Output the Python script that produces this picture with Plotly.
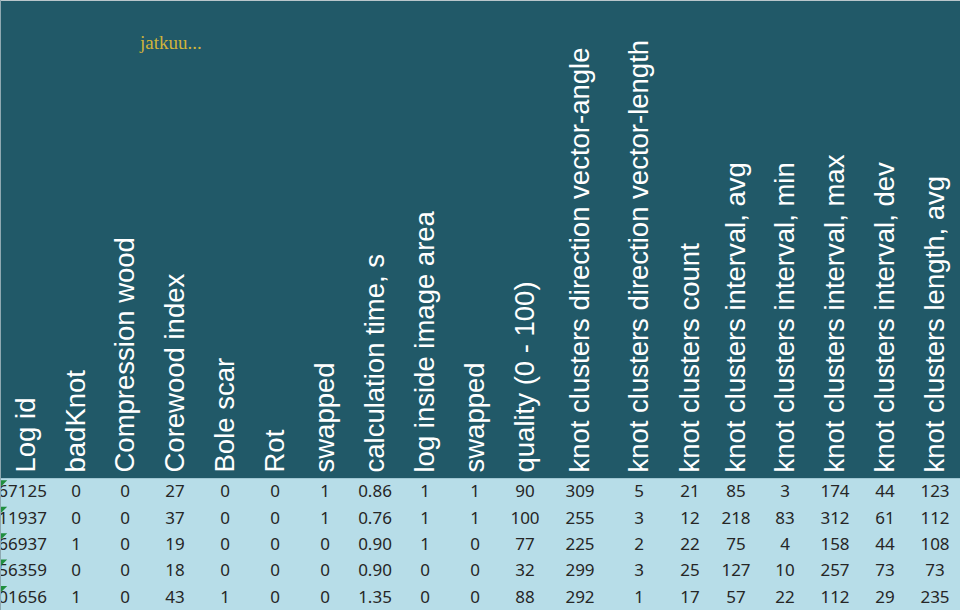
import plotly.graph_objects as go

# ---- data ----
headers = [
    "Log id", "badKnot", "Compression wood", "Corewood index", "Bole scar", "Rot",
    "swapped", "calculation time, s", "log inside image area", "swapped",
    "quality (0 - 100)", "knot clusters direction vector-angle",
    "knot clusters direction vector-length", "knot clusters count",
    "knot clusters interval, avg", "knot clusters interval, min",
    "knot clusters interval, max", "knot clusters interval, dev",
    "knot clusters length, avg",
]
log_id = ["567125", "111937", "566937", "256359", "401656"]
bad_knot = [0, 0, 1, 0, 1]
compression_wood = [0, 0, 0, 0, 0]
corewood_index = [27, 37, 19, 18, 43]
bole_scar = [0, 0, 0, 0, 1]
rot = [0, 0, 0, 0, 0]
swapped_a = [1, 1, 0, 0, 0]
calc_time = [0.86, 0.76, 0.90, 0.90, 1.35]
log_inside = [1, 1, 1, 0, 0]
swapped_b = [1, 1, 0, 0, 0]
quality = [90, 100, 77, 32, 88]
dir_angle = [309, 255, 225, 299, 292]
dir_length = [5, 3, 2, 3, 1]
kc_count = [21, 12, 22, 25, 17]
int_avg = [85, 218, 75, 127, 57]
int_min = [3, 83, 4, 10, 22]
int_max = [174, 312, 158, 257, 112]
int_dev = [44, 61, 44, 73, 29]
len_avg = [123, 112, 108, 73, 235]

columns = [bad_knot, compression_wood, corewood_index, bole_scar, rot, swapped_a,
           [f"{v:.2f}" for v in calc_time], log_inside, swapped_b, quality,
           dir_angle, dir_length, kc_count, int_avg, int_min, int_max, int_dev, len_avg]

# ---- layout / style ----
col_widths = [52, 48, 50, 50, 50, 50, 50, 50, 50, 50, 50, 60, 58, 44, 48, 50, 50, 50, 50]
edges = [0]
for w in col_widths:
    edges.append(edges[-1] + w)
centers = [(edges[i] + edges[i + 1]) / 2 for i in range(len(col_widths))]

HEADER_BG = "#215968"
BODY_BG = "#b7dde8"
TEXT_DARK = "#262626"
n_rows = len(log_id)
rows = list(range(n_rows))

fig = go.Figure()

# body values (columns 2..)
xs, ys, ts = [], [], []
for ci, col in enumerate(columns):
    for r, v in enumerate(col):
        xs.append(centers[ci + 1])
        ys.append(r)
        ts.append(str(v))
fig.add_trace(go.Scatter(
    x=xs, y=ys, text=ts, mode="text", textposition="middle center",
    textfont=dict(family="Noto Sans", size=17, color=TEXT_DARK),
    hoverinfo="skip", showlegend=False, cliponaxis=True,
))

# Log id column, right aligned and clipped at the left edge
fig.add_trace(go.Scatter(
    x=[edges[1] - 5] * n_rows, y=rows, text=log_id, mode="text",
    textposition="middle left",
    textfont=dict(family="Noto Sans", size=17, color=TEXT_DARK),
    hoverinfo="skip", showlegend=False, cliponaxis=True,
))

# green cell indicators in the Log id cells
fig.add_trace(go.Scatter(
    x=[edges[0] + 3] * n_rows, y=[r - 0.4 for r in rows], mode="markers",
    marker=dict(symbol="triangle-nw", size=7, color="#1f8f3f", line=dict(width=0)),
    hoverinfo="skip", showlegend=False, cliponaxis=False,
))

body_h = 131
fig.update_layout(
    width=960, height=610,
    margin=dict(l=0, r=0, t=0, b=0),
    paper_bgcolor=HEADER_BG,
    plot_bgcolor=BODY_BG,
    xaxis=dict(
        range=[edges[0], edges[-1]], side="top",
        tickmode="array", tickvals=centers, ticktext=headers,
        tickangle=-90, ticks="", showgrid=False, zeroline=False,
        tickfont=dict(family="Liberation Sans", size=27.5, color="white"),
        showline=True, linecolor="#9fc6d2", linewidth=1,
        ticklabelstandoff=0,
    ),
    yaxis=dict(
        domain=[0, body_h / 610], range=[4.43, -0.53],
        showticklabels=False, showgrid=False, zeroline=False, ticks="",
    ),
    annotations=[dict(
        text="jatkuu...", xref="paper", yref="paper", x=170 / 960, y=1 - 42 / 610,
        showarrow=False, xanchor="center", yanchor="middle",
        font=dict(family="Liberation Serif", size=19, color="#d1b43a"),
    )],
    shapes=[
        dict(type="line", xref="paper", yref="paper", x0=0, x1=1, y0=1, y1=1,
             line=dict(color="#b9c6cb", width=2)),
        dict(type="line", xref="paper", yref="paper", x0=0, x1=0, y0=0, y1=1,
             line=dict(color="#8fa9b1", width=2)),
    ],
)

fig.write_html(
    "out.html",
    config={"displayModeBar": False},
    post_script="document.body.style.margin='0';document.body.style.overflow='hidden';",
)
